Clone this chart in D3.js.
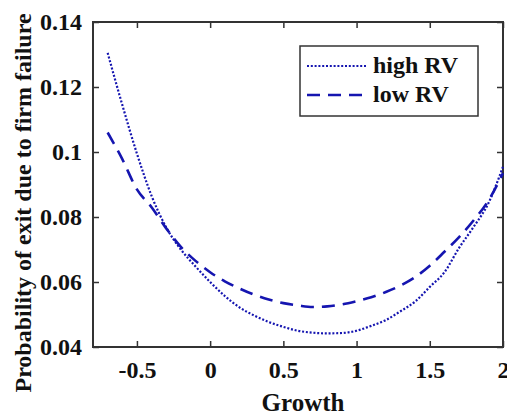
<!DOCTYPE html>
<html>
<head>
<meta charset="utf-8">
<script src="https://cdn.jsdelivr.net/npm/d3@7"></script>
<style>
  body { margin: 0; background: #fff; }
</style>
</head>
<body>
<div id="chart"></div>
<script>
const growth = [-0.7, -0.6, -0.5, -0.4, -0.3, -0.2, -0.1, 0, 0.1, 0.2, 0.3, 0.4, 0.5, 0.6,
  0.7, 0.8, 0.9, 1.0, 1.1, 1.2, 1.3, 1.4, 1.5, 1.6, 1.7, 1.8, 1.9, 2.0];
const highRV = [0.1305, 0.1145, 0.0995, 0.0865, 0.0768, 0.0700, 0.0648, 0.0600, 0.0557,
  0.0522, 0.0497, 0.0477, 0.0462, 0.0450, 0.0444, 0.0442, 0.0443, 0.0450, 0.0465, 0.0483,
  0.0510, 0.0540, 0.0585, 0.0630, 0.0705, 0.0770, 0.0842, 0.0955];
const lowRV = [0.1060, 0.0978, 0.0885, 0.0830, 0.0765, 0.0708, 0.0665, 0.0630, 0.0602,
  0.0580, 0.0561, 0.0546, 0.0535, 0.0528, 0.0523, 0.0525, 0.0531, 0.0541, 0.0553, 0.0569,
  0.0589, 0.0615, 0.0650, 0.0693, 0.0738, 0.0790, 0.0850, 0.0935];
const xTicks = [-0.5, 0, 0.5, 1, 1.5, 2];
const yTicks = [0.04, 0.06, 0.08, 0.1, 0.12, 0.14];
const seriesNames = ["high RV", "low RV"];

const width = 507;
const height = 417;
const margin = { top: 22, right: 4, bottom: 70, left: 93 };
const font = "'Liberation Serif', 'Times New Roman', serif";
const lineColor = "#1515b0";
const axisColor = "#333";
const dashes = { "high RV": "2,1.8", "low RV": "13,8" };
const strokes = { "high RV": 2.2, "low RV": 2.6 };

const svg = d3
  .select("#chart")
  .append("svg")
  .attr("width", width)
  .attr("height", height)
  .attr("font-family", font)
  .attr("font-weight", "bold");

const x = d3
  .scaleLinear()
  .domain([-0.8, 2])
  .range([margin.left, width - margin.right]);

const y = d3
  .scaleLinear()
  .domain([0.04, 0.14])
  .range([height - margin.bottom, margin.top]);

const fmt = (d) => String(d);

// axes, ticks inward on all four sides (box on)
const tickLen = 6;
svg
  .append("g")
  .attr("transform", `translate(0, ${y.range()[0]})`)
  .call(d3.axisBottom(x).tickValues(xTicks).tickFormat(fmt).tickSize(-tickLen).tickPadding(14))
  .call((g) => g.select(".domain").remove());
svg
  .append("g")
  .attr("transform", `translate(0, ${y.range()[1]})`)
  .call(d3.axisTop(x).tickValues(xTicks).tickFormat("").tickSize(-tickLen))
  .call((g) => g.select(".domain").remove());
svg
  .append("g")
  .attr("transform", `translate(${x.range()[0]}, 0)`)
  .call(d3.axisLeft(y).tickValues(yTicks).tickFormat(fmt).tickSize(-tickLen).tickPadding(11))
  .call((g) => g.select(".domain").remove());
svg
  .append("g")
  .attr("transform", `translate(${x.range()[1]}, 0)`)
  .call(d3.axisRight(y).tickValues(yTicks).tickFormat("").tickSize(-tickLen))
  .call((g) => g.select(".domain").remove());

svg.selectAll(".tick line").attr("stroke", axisColor).attr("stroke-width", 1.5);
svg
  .selectAll(".tick text")
  .attr("font-family", font)
  .attr("font-weight", "bold")
  .attr("font-size", "24px")
  .attr("fill", "#111");

svg
  .append("rect")
  .attr("x", x.range()[0])
  .attr("y", y.range()[1])
  .attr("width", x.range()[1] - x.range()[0])
  .attr("height", y.range()[0] - y.range()[1])
  .attr("fill", "none")
  .attr("stroke", axisColor)
  .attr("stroke-width", 2);

// curves
const line = d3
  .line()
  .x((d) => x(d[0]))
  .y((d) => y(d[1]))
  .curve(d3.curveMonotoneX);

const series = {
  "high RV": growth.map((g, i) => [g, highRV[i]]),
  "low RV": growth.map((g, i) => [g, lowRV[i]]),
};

seriesNames.forEach((name) => {
  svg
    .append("path")
    .datum(series[name])
    .attr("d", line)
    .attr("fill", "none")
    .attr("stroke", lineColor)
    .attr("stroke-width", strokes[name])
    .attr("stroke-dasharray", dashes[name]);
});

// axis titles
svg
  .append("text")
  .attr("x", (x.range()[0] + x.range()[1]) / 2 + 5)
  .attr("y", 411)
  .attr("text-anchor", "middle")
  .attr("font-size", "25px")
  .attr("fill", "#111")
  .text("Growth");

svg
  .append("text")
  .attr("transform", "translate(31, 203) rotate(-90)")
  .attr("text-anchor", "middle")
  .attr("font-size", "24px")
  .attr("fill", "#111")
  .text("Probability of exit due to firm failure");

// legend
const legend = svg.append("g").attr("transform", "translate(300, 46)");
legend
  .append("rect")
  .attr("width", 178)
  .attr("height", 70)
  .attr("fill", "#fff")
  .attr("stroke", axisColor)
  .attr("stroke-width", 1.5);

legend
  .selectAll(".legendPart")
  .data(seriesNames)
  .enter()
  .append("g")
  .attr("class", "legendPart")
  .each(function (d, i) {
    const part = d3.select(this);
    const yy = 20 + i * 29;
    part
      .append("line")
      .attr("x1", 7)
      .attr("x2", 66)
      .attr("y1", yy)
      .attr("y2", yy)
      .attr("stroke", lineColor)
      .attr("stroke-width", strokes[d])
      .attr("stroke-dasharray", dashes[d]);
    part
      .append("text")
      .attr("x", 73)
      .attr("y", yy + 7)
      .attr("font-size", "24px")
      .attr("fill", "#111")
      .text(d);
  });
</script>
</body>
</html>
